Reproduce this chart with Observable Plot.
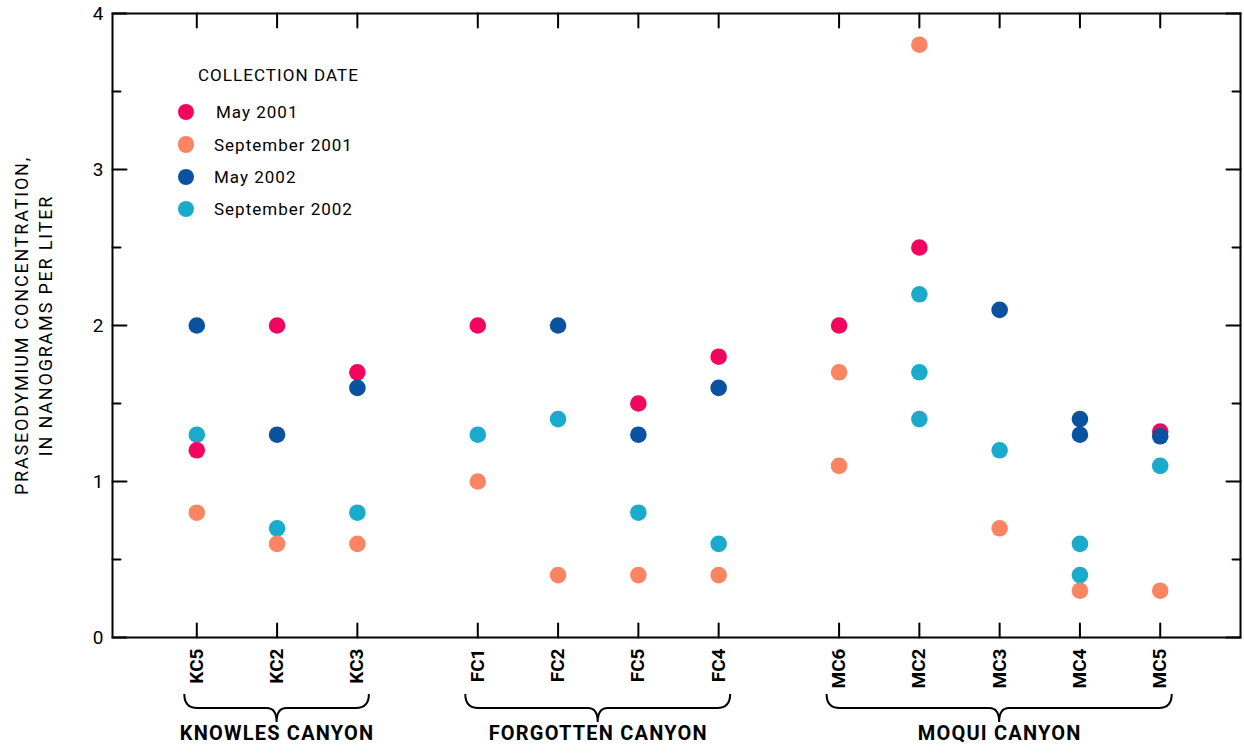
<!DOCTYPE html>
<html>
<head>
<meta charset="utf-8">
<script src="https://cdn.jsdelivr.net/npm/d3@7"></script>
<script src="https://cdn.jsdelivr.net/npm/@observablehq/plot@0.6"></script>
<style>
  body { margin: 0; background: #fff; }
  #chart {
    position: relative; width: 1244px; height: 754px;
    font-family: Roboto, "Liberation Sans", sans-serif;
    color: #000;
  }
  #chart svg { position: absolute; left: 0; top: 0; overflow: visible; }
  .legend-title, .legend-label { position: absolute; font-size: 17px; line-height: 22px; white-space: nowrap; }
  .legend-title { letter-spacing: 1.05px; }
  .legend-label { letter-spacing: 1px; }
  .legend-dot { position: absolute; border-radius: 50%; }
</style>
</head>
<body>
<div id="chart"></div>
<script>
// Sampling sites, in plotting order, and the canyon each belongs to
const sites = ["KC5", "KC2", "KC3", "FC1", "FC2", "FC5", "FC4", "MC6", "MC2", "MC3", "MC4", "MC5"];
const siteCanyon = [0, 0, 0, 1, 1, 1, 1, 2, 2, 2, 2, 2];
const canyons = ["KNOWLES CANYON", "FORGOTTEN CANYON", "MOQUI CANYON"];

// Collection dates and their colours
const dates = ["May 2001", "September 2001", "May 2002", "September 2002"];
const dateColors = ["#f2055f", "#fb8462", "#0a51a0", "#1aabcc"];

// Praseodymium concentration, ng/L: [site, value]
const may2001 = [["KC5", 1.2], ["KC2", 2.0], ["KC3", 1.7], ["FC1", 2.0], ["FC5", 1.5], ["FC4", 1.8],
                 ["MC6", 2.0], ["MC2", 2.5], ["MC5", 1.32]];
const sep2001 = [["KC5", 0.8], ["KC2", 0.6], ["KC3", 0.6], ["FC1", 1.0], ["FC2", 0.4], ["FC5", 0.4], ["FC4", 0.4],
                 ["MC6", 1.7], ["MC6", 1.1], ["MC2", 3.8], ["MC3", 0.7], ["MC4", 0.3], ["MC5", 0.3]];
const may2002 = [["KC5", 2.0], ["KC2", 1.3], ["KC3", 1.6], ["FC2", 2.0], ["FC5", 1.3], ["FC4", 1.6],
                 ["MC3", 2.1], ["MC4", 1.4], ["MC4", 1.3], ["MC5", 1.29]];
const sep2002 = [["KC5", 1.3], ["KC2", 0.7], ["KC3", 0.8], ["FC1", 1.3], ["FC2", 1.4], ["FC5", 0.8], ["FC4", 0.6],
                 ["MC2", 2.2], ["MC2", 1.7], ["MC2", 1.4], ["MC3", 1.2], ["MC4", 0.6], ["MC4", 0.4], ["MC5", 1.1]];

// Axis ticks
const yMajor = [0, 1, 2, 3, 4];
const yMinor = [0.5, 1.5, 2.5, 3.5];
const yTitle = "PRASEODYMIUM CONCENTRATION,\nIN NANOGRAMS PER LITER";

// Sites sit one unit apart, with an extra half unit between canyons
const canyonGap = 0.5;
const sitePos = sites.map((s, i) => i + siteCanyon[i] * canyonGap);
const posOf = new Map(sites.map((s, i) => [s, sitePos[i]]));
const xDomain = [-1.05, 13];

// Series drawn in this order so overlapping dots stack the same way
const seriesOrder = [[sep2002, 3], [may2001, 0], [sep2001, 1], [may2002, 2]];
const records = seriesOrder.flatMap(([rows, d]) =>
  rows.map(([site, value]) => ({site, pos: posOf.get(site), value, date: dates[d]})));

const canyonRows = canyons.map((name, c) => {
  const p = sitePos.filter((_, i) => siteCanyon[i] === c);
  return {name, first: p[0], last: p[p.length - 1], mid: (p[0] + p[p.length - 1]) / 2};
});

// A plain straight stroke, used for the inward-pointing tick marks
const tickShape = {draw(context, l) { context.moveTo(0, 0); context.lineTo(0, -l); }};
const tickOpts = {anchor: "start", shape: tickShape, stroke: "#000", strokeWidth: 2};

const plot = Plot.plot({
  width: 1244,
  height: 754,
  marginLeft: 112,
  marginRight: 4,
  marginTop: 13,
  marginBottom: 117,
  x: {type: "linear", domain: xDomain},
  y: {domain: [0, 4]},
  color: {domain: dates, range: dateColors},
  style: {fontFamily: "Roboto, 'Liberation Sans', sans-serif", color: "#000", background: "transparent", overflow: "visible"},
  marks: [
    Plot.frame({strokeWidth: 2}),
    // inward tick marks on all four sides
    Plot.vector(sitePos, {x: d => d, frameAnchor: "bottom", length: 14, rotate: 0, ...tickOpts}),
    Plot.vector(sitePos, {x: d => d, frameAnchor: "top", length: 14, rotate: 180, ...tickOpts}),
    Plot.vector(yMajor, {y: d => d, frameAnchor: "left", length: 14, rotate: 90, ...tickOpts}),
    Plot.vector(yMinor, {y: d => d, frameAnchor: "left", length: 8, rotate: 90, ...tickOpts}),
    Plot.vector(yMajor, {y: d => d, frameAnchor: "right", length: 14, rotate: -90, ...tickOpts}),
    Plot.vector(yMinor, {y: d => d, frameAnchor: "right", length: 8, rotate: -90, ...tickOpts}),
    // tick labels
    Plot.axisY(yMajor, {anchor: "left", tickSize: 0, tickPadding: 9, tickFormat: d3.format("d"), fontSize: 19, label: null}),
    Plot.axisX(sitePos, {
      anchor: "bottom", tickSize: 0, tickPadding: 11, tickRotate: -90,
      tickFormat: p => sites[sitePos.indexOf(p)], fontSize: 19, fontWeight: "bold", label: null
    }),
    // y title
    Plot.text([yTitle], {frameAnchor: "left", textAnchor: "middle", dx: -80, rotate: -90, fontSize: 18, lineHeight: 1.34}),
    // canyon names under their brackets
    Plot.text(canyonRows, {x: "mid", text: "name", frameAnchor: "bottom", dy: 102, fontSize: 20, fontWeight: "bold"}),
    // measurements
    Plot.dot(records, {x: "pos", y: "value", fill: "date", r: 8.3})
  ]
});

const chart = document.getElementById("chart");
chart.appendChild(plot);

// letter spacing for the titles
const svg = d3.select(plot);
svg.selectAll("text").each(function () {
  const t = this.textContent;
  if (canyons.includes(t)) this.style.letterSpacing = "1.2px";
  if (t.startsWith("PRASEODYMIUM") || t.includes("NANOGRAMS")) this.style.letterSpacing = "1.8px";
});

// curly brackets grouping the sites of each canyon, placed via the x scale
const xs = plot.scale("x");
const yBase = 637;
const bracket = svg.append("g").attr("fill", "none").attr("stroke", "#000").attr("stroke-width", 2);
for (const c of canyonRows) {
  const x1 = xs.apply(c.first) - 12, x2 = xs.apply(c.last) + 12, cx = xs.apply(c.mid);
  const top = yBase + 57, mid = yBase + 71, tip = yBase + 85;
  bracket.append("path").attr("d",
    `M${x1},${top} Q${x1},${mid} ${x1 + 13},${mid} L${cx - 10},${mid} Q${cx},${mid} ${cx},${tip}` +
    ` Q${cx},${mid} ${cx + 10},${mid} L${x2 - 13},${mid} Q${x2},${mid} ${x2},${top}`);
}

// legend
const legend = d3.select(chart);
legend.append("div").attr("class", "legend-title")
  .style("left", "198px").style("top", "64px").text("COLLECTION DATE");
const rowY = [112, 144.5, 177, 209];
dates.forEach((d, i) => {
  legend.append("div").attr("class", "legend-dot")
    .style("left", (186 - 8.3) + "px").style("top", (rowY[i] - 8.3) + "px")
    .style("width", "16.6px").style("height", "16.6px").style("background", dateColors[i]);
  legend.append("div").attr("class", "legend-label")
    .style("left", (i === 0 ? 216 : 214) + "px").style("top", (rowY[i] - 11) + "px").text(d);
});
</script>
</body>
</html>
